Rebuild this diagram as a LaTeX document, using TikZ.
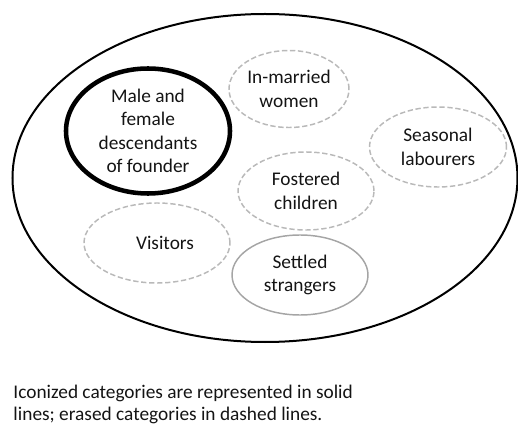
\documentclass[tikz,border=0pt]{standalone}
\usepackage{fontspec}
\setmainfont{Carlito}
\usetikzlibrary{shapes.geometric}

\definecolor{erased}{RGB}{185,185,185}
\definecolor{settled}{RGB}{165,165,165}
\definecolor{ink}{RGB}{20,20,20}

\tikzset{every picture/.style={line width=0.75pt}}
\tikzset{
  catlabel/.style={text=ink, align=center, font=\fontsize{14.5}{17.5}\selectfont},
  erasedcat/.style={ellipse, catlabel, draw=erased, line width=1.1pt, dash pattern=on 4pt off 2pt, inner sep=0pt},
  iconcat/.style={ellipse, catlabel, draw=black, line width=3.4pt, inner sep=0pt},
  settledcat/.style={ellipse, catlabel, draw=settled, line width=1.1pt, inner sep=0pt}
}

\begin{document}
\begin{tikzpicture}[x=0.75pt,y=0.75pt,yscale=-1,xscale=1]
\useasboundingbox (0,0) rectangle (518,424);

%Shape: Outer ellipse
\node [ellipse, draw=black, line width=1.5pt, minimum width=505*0.75pt, minimum height=328*0.75pt, inner sep=0pt] (community) at (265,178) {};

%Iconized categories
\node [iconcat, minimum width=164*0.75pt, minimum height=125*0.75pt] (founder) at (148,131) {Male and\\female\\descendants\\of founder};
\node [settledcat, minimum width=136*0.75pt, minimum height=80*0.75pt] (settled) at (300,275) {Settled\\strangers};

%Erased categories
\node [erasedcat, minimum width=120*0.75pt, minimum height=77*0.75pt] (inmarried) at (289,89) {In-married\\women};
\node [erasedcat, minimum width=137*0.75pt, minimum height=80*0.75pt] (seasonal) at (438,147) {Seasonal\\labourers};
\node [erasedcat, minimum width=136*0.75pt, minimum height=78*0.75pt] (fostered) at (306,191) {Fostered\\children};
\node [erasedcat, minimum width=146*0.75pt, minimum height=80*0.75pt] (visitors) at (157,243) {\hspace*{12pt}Visitors};

% Text Node
\node [anchor=north west, inner sep=0pt, text=ink, align=left, font=\fontsize{14.5}{16.5}\selectfont] (caption) at (13,385) {Iconized categories are represented in solid\\lines; erased categories in dashed lines.};

\end{tikzpicture}
\end{document}
